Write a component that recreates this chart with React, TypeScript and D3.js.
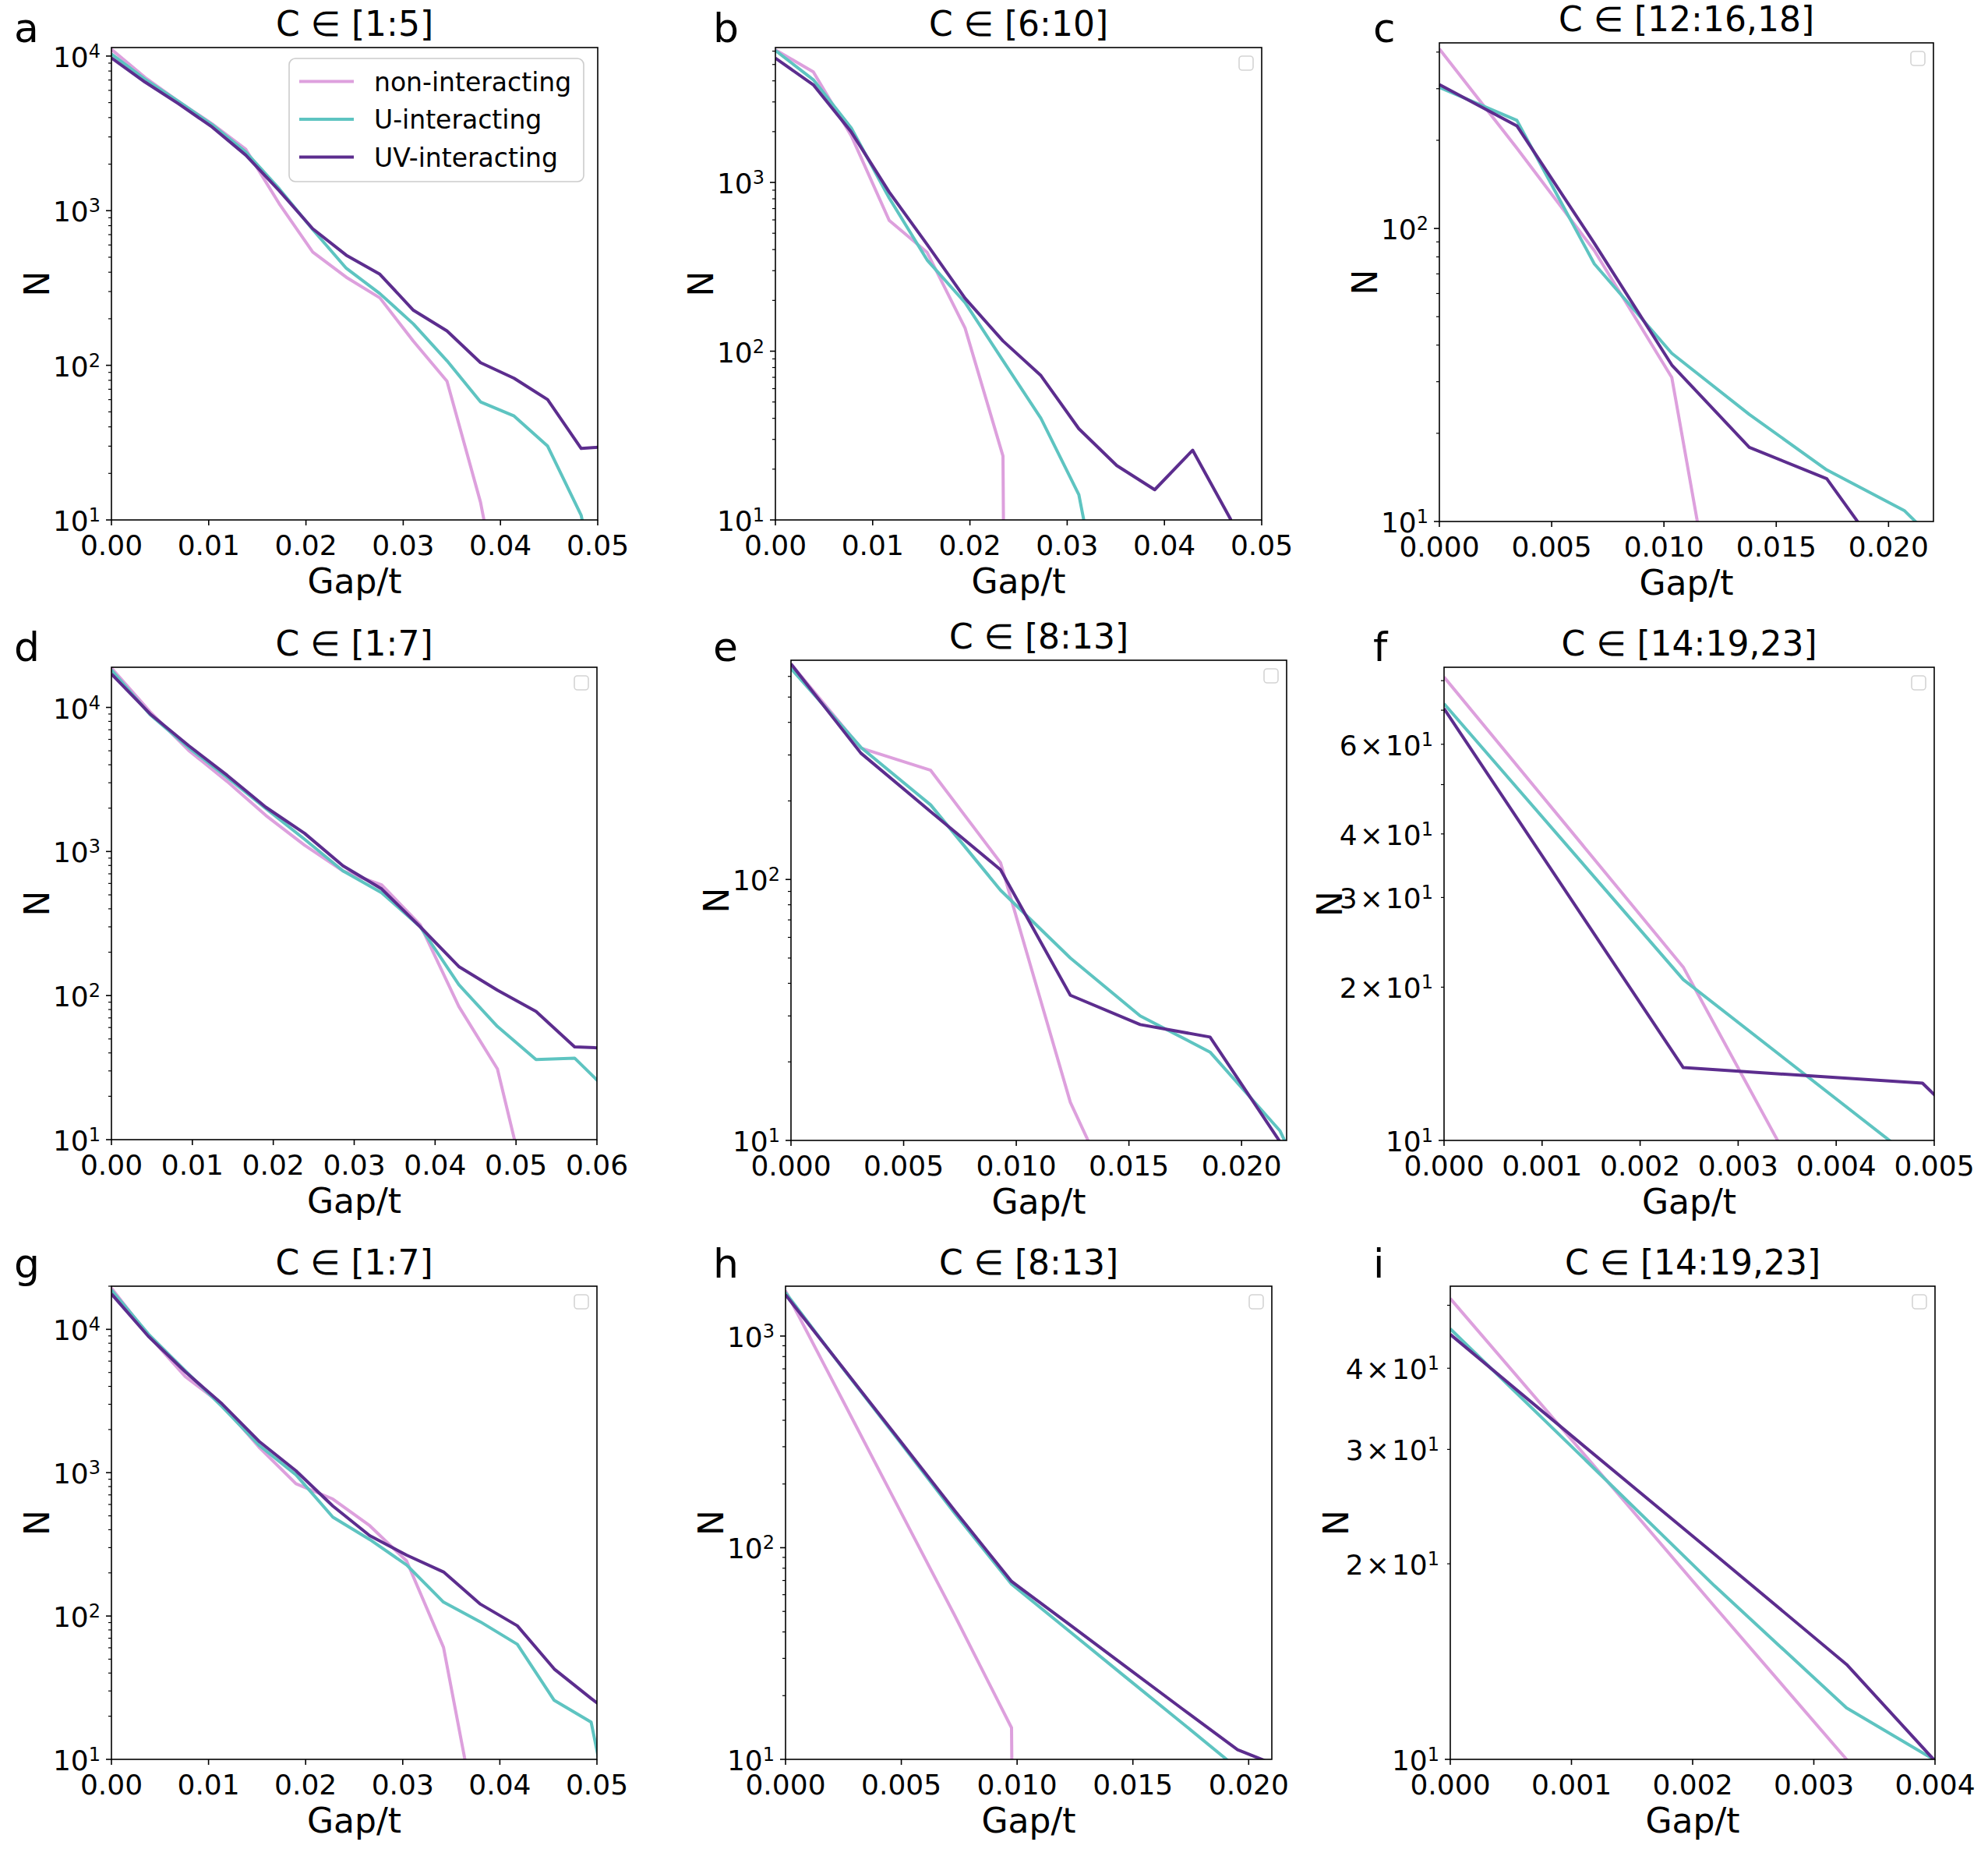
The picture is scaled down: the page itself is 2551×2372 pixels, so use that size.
import React from 'react';
import * as d3 from 'd3';

const FONT = "'DejaVu Sans', sans-serif";
const W = 2551;
const H = 2372;

const seriesLabels = ['non-interacting', 'U-interacting', 'UV-interacting'];
const seriesColors = ['#DDA0DD', '#5EC4C1', '#5C2D8E'];

// ---------- Panel a : C ∈ [1:5]
const aX = [0, 0.00345, 0.0069, 0.01035, 0.0138, 0.01725, 0.0207, 0.02415, 0.0276, 0.03105, 0.0345, 0.03795, 0.0414, 0.04485, 0.0483, 0.05175];
const aNon = [11040, 7280, 5090, 3640, 2500, 1110, 540, 371, 273, 143, 79, 13, 1];
const aU = [10300, 7080, 5090, 3600, 2400, 1386, 755, 424, 291, 185, 107, 58, 47, 30, 10.7, 1];
const aUV = [9730, 6790, 4910, 3475, 2290, 1347, 764, 515, 388, 227, 167, 104, 82.5, 60, 29, 30];

// ---------- Panel b : C ∈ [6:10]
const bX = [0, 0.0039, 0.0078, 0.0117, 0.0156, 0.0195, 0.0234, 0.0273, 0.0312, 0.0351, 0.039, 0.0429, 0.0468, 0.0507];
const bNon = [6110, 4520, 1890, 596, 385, 137, 23.9, 0];
const bU = [6050, 4060, 2100, 809, 347, 194, 88, 40, 14.1, 1];
const bUV = [5450, 3790, 1990, 877, 429, 206, 115, 71.7, 34.7, 21, 15.1, 25.9, 10.1, 1];

// ---------- Panel c : C ∈ [12:16,18]
const cX = [0, 0.00345, 0.0069, 0.01035, 0.0138, 0.01725, 0.0207, 0.02415];
const cNon = [410, 188, 84, 31, 1];
const cU = [303, 234, 75.7, 37.5, 23.2, 15.0, 10.9, 6];
const cUV = [310, 224, 89, 34.2, 17.9, 14.0, 6];

// ---------- Panel d : C ∈ [1:7]
const dX = [0, 0.00477, 0.00954, 0.01431, 0.01908, 0.02385, 0.02862, 0.03339, 0.03816, 0.04293, 0.0477, 0.05247, 0.05724, 0.06201];
const dNon = [18760, 9330, 5030, 3060, 1780, 1107, 733, 586, 310, 84, 31, 2.4];
const dU = [18200, 8920, 5260, 3265, 1990, 1218, 733, 517, 300, 119, 61, 36, 36.8, 20.1];
const dUV = [17060, 9030, 5430, 3375, 2030, 1340, 796, 550, 300, 159, 109, 77.6, 44, 43];

// ---------- Panel e : C ∈ [8:13]
const eX = [0, 0.0031, 0.0062, 0.0093, 0.0124, 0.0155, 0.0186, 0.0217, 0.0248];
const eNon = [670, 319, 262, 116, 14, 3.7];
const eU = [643, 321, 193, 91, 50, 30, 21.8, 10.9, 3];
const eUV = [670, 305, 182, 109, 36, 27.8, 24.9, 9.9, 3];

// ---------- Panel f : C ∈ [14:19,23]
const fX = [0, 0.00244, 0.00488, 0.00732];
const fNon = [81.3, 21.9, 3];
const fU = [72.1, 20.7, 8.9];
const fUV = [70.5, 13.9, 12.96, 4.5];

// ---------- Panel g : C ∈ [1:7]
const gX = [0, 0.0038, 0.0076, 0.0114, 0.0152, 0.019, 0.0228, 0.0266, 0.0304, 0.0342, 0.038, 0.0418, 0.0456, 0.0494, 0.0532];
const gNon = [19400, 9100, 4690, 2980, 1507, 838, 655, 427, 242, 60.4, 2.7];
const gU = [18780, 9270, 5150, 2884, 1555, 968, 490, 342, 227, 125, 91, 63.5, 25.8, 18.2, 1];
const gUV = [17660, 8940, 5060, 3015, 1656, 1032, 585, 364, 266, 203, 121, 85.5, 42.7, 26.6, 17];

// ---------- Panel h : C ∈ [8:13]
const hX = [0, 0.00244, 0.00488, 0.00732, 0.00976, 0.0122, 0.01464, 0.01708, 0.01952, 0.02196];
const hNon = [1637, 504, 154.5, 47.5, 14.1, 0];
const hU = [1603, 712, 322, 145, 67.3, 40.8, 24.7, 15.0, 9.06];
const hUV = [1567, 716, 327, 149, 69.3, 43.9, 27.7, 17.5, 11.1, 8.7];

// ---------- Panel i : C ∈ [14:19,23]
const iX = [0, 0.00109, 0.00218, 0.00327, 0.00436];
const iNon = [51.2, 29.7, 17.2, 10.0, 5.8];
const iU = [46.0, 29.2, 18.5, 12.0, 9.1];
const iUV = [45.1, 30.5, 20.7, 14.0, 8.4];

const panelLetters = ['a', 'b', 'c', 'd', 'e', 'f', 'g', 'h', 'i'];
const panelTitles = ['C ∈ [1:5]', 'C ∈ [6:10]', 'C ∈ [12:16,18]', 'C ∈ [1:7]', 'C ∈ [8:13]', 'C ∈ [14:19,23]', 'C ∈ [1:7]', 'C ∈ [8:13]', 'C ∈ [14:19,23]'];
const xMaxes = [0.05, 0.05, 0.022, 0.06, 0.022, 0.005, 0.05, 0.021, 0.004];
const yMaxes = [11350, 6300, 430, 19000, 692, 85, 20000, 1720, 53.5];
const xTickCounts = [5, 5, 5, 6, 5, 5, 5, 5, 4];
const xDecimals = [2, 2, 3, 2, 3, 3, 2, 3, 3];
const xLabel = 'Gap/t';
const yLabel = 'N';

const panelData = [
  { x: aX, s: [aNon, aU, aUV] },
  { x: bX, s: [bNon, bU, bUV] },
  { x: cX, s: [cNon, cU, cUV] },
  { x: dX, s: [dNon, dU, dUV] },
  { x: eX, s: [eNon, eU, eUV] },
  { x: fX, s: [fNon, fU, fUV] },
  { x: gX, s: [gNon, gU, gUV] },
  { x: hX, s: [hNon, hU, hUV] },
  { x: iX, s: [iNon, iU, iUV] },
];

// layout (pixel boxes of the axes)
const boxes = [
  { l: 143, r: 767, t: 61, b: 667 },
  { l: 995, r: 1619, t: 61, b: 667 },
  { l: 1847, r: 2481, t: 55, b: 669 },
  { l: 143, r: 766, t: 856, b: 1462 },
  { l: 1015, r: 1651, t: 847, b: 1463 },
  { l: 1853, r: 2482, t: 856, b: 1463 },
  { l: 143, r: 766, t: 1650, b: 2257 },
  { l: 1008, r: 1632, t: 1650, b: 2257 },
  { l: 1861, r: 2483, t: 1650, b: 2257 },
];
const letterX = [18, 915, 1762];
const letterY = [54, 848, 1639];

const TICK_FS = 36;
const LABEL_FS = 44;

function YTickLabel({ x, y, m, k }: { x: number; y: number; m: number; k: number }) {
  return (
    <text x={x} y={y} textAnchor="end" fontSize={TICK_FS} fill="#000">
      {m !== 1 && <tspan>{m}</tspan>}
      {m !== 1 && <tspan dx={3}>×</tspan>}
      <tspan dx={m !== 1 ? 3 : 0}>10</tspan>
      <tspan dy={-12} fontSize={24}>{k}</tspan>
    </text>
  );
}

function PanelView({ idx }: { idx: number }) {
  const box = boxes[idx];
  const data = panelData[idx];
  const xs = d3.scaleLinear().domain([0, xMaxes[idx]]).range([box.l, box.r]);
  const ys = d3.scaleLog().domain([10, yMaxes[idx]]).range([box.b, box.t]);
  const [lo, hi] = ys.domain();
  const numdec = Math.log10(hi / lo);
  const sub = numdec > 1 ? [1] : [1, 2, 3, 4, 6];
  const yt: { v: number; m: number; k: number }[] = [];
  for (let k = Math.floor(Math.log10(lo)); k <= Math.ceil(Math.log10(hi)); k++) {
    for (let m = 1; m <= 9; m++) {
      const v = m * Math.pow(10, k);
      if (v >= lo * 0.9999 && v <= hi * 1.0001) yt.push({ v, m, k });
    }
  }
  const xt = xs.ticks(xTickCounts[idx]);
  const fmt = d3.format(`.${xDecimals[idx]}f`);
  const line = d3
    .line<number>()
    .x((_, i) => xs(data.x[i]))
    .y((v) => ys(v > 0 ? v : 1e-30));
  const cx = (box.l + box.r) / 2;
  const cy = (box.t + box.b) / 2;
  const col = idx % 3;
  const row = Math.floor(idx / 3);
  const nOff = numdec > 1 ? 96 : 147;
  const clipId = `clip-${idx}`;
  const legW = 378;
  const legX = box.r - 18 - legW;
  return (
    <g>
      <defs>
        <clipPath id={clipId}>
          <rect x={box.l} y={box.t} width={box.r - box.l} height={box.b - box.t} />
        </clipPath>
      </defs>
      <g clipPath={`url(#${clipId})`}>
        {data.s.map((vals, si) => (
          <path
            key={si}
            d={line(vals) || ''}
            fill="none"
            stroke={seriesColors[si]}
            strokeWidth={4}
            strokeLinejoin="round"
          />
        ))}
      </g>
      <rect x={box.l} y={box.t} width={box.r - box.l} height={box.b - box.t} fill="none" stroke="#000" strokeWidth={1.6} />
      {xt.map((v, i) => (
        <g key={`xt${i}`}>
          <line x1={xs(v)} x2={xs(v)} y1={box.b} y2={box.b + 7} stroke="#000" strokeWidth={1.6} />
          <text x={xs(v)} y={box.b + 45} textAnchor="middle" fontSize={TICK_FS} fill="#000">
            {fmt(v)}
          </text>
        </g>
      ))}
      {yt.map((t, i) => (
        <g key={`yt${i}`}>
          <line x1={box.l - (t.m === 1 ? 7 : 4)} x2={box.l} y1={ys(t.v)} y2={ys(t.v)} stroke="#000" strokeWidth={t.m === 1 ? 1.6 : 1.2} />
          {sub.includes(t.m) && <YTickLabel x={box.l - 14} y={ys(t.v) + 14} m={t.m} k={t.k} />}
        </g>
      ))}
      <text x={cx} y={box.b + 94} textAnchor="middle" fontSize={LABEL_FS} fill="#000">
        {xLabel}
      </text>
      <text
        transform={`translate(${box.l - nOff},${cy}) rotate(-90)`}
        textAnchor="middle"
        dominantBaseline="central"
        fontSize={LABEL_FS}
        fill="#000"
      >
        {yLabel}
      </text>
      <text x={cx} y={box.t - 15} textAnchor="middle" fontSize={LABEL_FS} fill="#000">
        {panelTitles[idx]}
      </text>
      <text x={letterX[col]} y={letterY[row]} fontSize={52} fill="#000">
        {panelLetters[idx]}
      </text>
      {idx === 0 ? (
        <g>
          <rect x={legX} y={box.t + 14} width={legW} height={158} rx={8} fill="#fff" fillOpacity={0.8} stroke="#cccccc" strokeWidth={1.6} />
          {seriesLabels.map((lab, si) => {
            const yy = box.t + 43.5 + si * 48.5;
            const x0 = legX + 13;
            return (
              <g key={si}>
                <line x1={x0} x2={x0 + 70} y1={yy} y2={yy} stroke={seriesColors[si]} strokeWidth={4} />
                <text x={x0 + 96} y={yy + 12} fontSize={33} fill="#000">
                  {lab}
                </text>
              </g>
            );
          })}
        </g>
      ) : (
        <rect x={box.r - 11 - 18} y={box.t + 11} width={18} height={18} rx={4} fill="#fff" stroke="#d4d4d4" strokeWidth={1.6} />
      )}
    </g>
  );
}

export default function App() {
  return (
    <svg
      width={W}
      height={H}
      style={{ position: 'absolute', left: 0, top: 0, background: '#fff' }}
      fontFamily={FONT}
    >
      <rect width={W} height={H} fill="#fff" />
      {panelData.map((_, idx) => (
        <PanelView key={idx} idx={idx} />
      ))}
    </svg>
  );
}
